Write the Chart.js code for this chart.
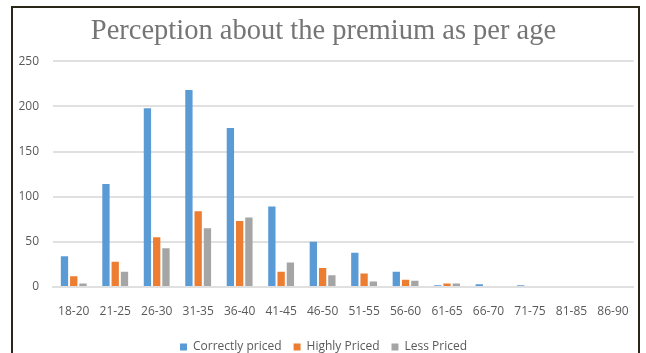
<!DOCTYPE html>
<html>
<head>
<meta charset="utf-8">
<script src="https://cdn.jsdelivr.net/npm/chart.js@4/dist/chart.umd.min.js"></script>
<style>
  html, body { margin: 0; padding: 0; background: #fff; }
  body { width: 646px; height: 353px; position: relative; overflow: hidden; }
  .frame {
    position: absolute; left: 11px; top: 6px; width: 629px; height: 400px;
    box-sizing: border-box; border: 2px solid #2a2619;
  }
  #chart { position: absolute; left: 0; top: 0; }
</style>
</head>
<body>
<div class="frame"></div>
<canvas id="chart" width="646" height="353"></canvas>
<script>
// age groups on the x axis
const AGE_GROUPS = ["18-20", "21-25", "26-30", "31-35", "36-40", "41-45", "46-50",
  "51-55", "56-60", "61-65", "66-70", "71-75", "81-85", "86-90"];

// respondents per perception
const CORRECTLY_PRICED = [34, 114, 198, 218, 176, 89, 50, 38, 17, 2, 3, 2, 0, 0];
const HIGHLY_PRICED = [12, 28, 55, 84, 73, 17, 21, 15, 8, 4, 0, 0, 0, 0];
const LESS_PRICED = [4, 17, 43, 65, 77, 27, 13, 6, 7, 4, 0, 0, 0, 0];

const Y_MAX = 250;
const Y_STEP = 50;

const TEXT_GREY = "#595959";
const GRID_GREY = "#e0e0e0";

const series = [
  { label: "Correctly priced", data: CORRECTLY_PRICED, color: "#5b9bd5" },
  { label: "Highly Priced", data: HIGHLY_PRICED, color: "#ed7d31" },
  { label: "Less Priced", data: LESS_PRICED, color: "#a5a5a5" },
];

new Chart(document.getElementById("chart"), {
  type: "bar",
  data: {
    labels: AGE_GROUPS,
    datasets: series.map(s => ({
      label: s.label,
      data: s.data,
      backgroundColor: s.color,
      borderWidth: 0,
      categoryPercentage: 0.67,
      barPercentage: 0.79,
    })),
  },
  options: {
    responsive: false,
    animation: false,
    layout: { padding: { left: 12, right: 11, top: 4, bottom: -10 } },
    plugins: {
      title: {
        display: true,
        text: "Perception about the premium as per age",
        color: "#757575",
        font: { family: "'Liberation Serif', 'DejaVu Serif', serif", size: 28.5, weight: "normal" },
        padding: { top: 10, bottom: 13 },
      },
      legend: {
        position: "bottom",
        labels: {
          color: TEXT_GREY,
          font: { family: "'Open Sans', sans-serif", size: 12 },
          boxWidth: 7,
          boxHeight: 7,
          padding: 12,
        },
      },
      tooltip: { enabled: false },
    },
    scales: {
      x: {
        afterFit: axis => { axis.height = 42; },
        grid: { display: false, drawTicks: false },
        border: { color: GRID_GREY, width: 2 },
        ticks: {
          color: TEXT_GREY,
          font: { family: "'Open Sans', sans-serif", size: 12 },
          padding: 17,
          maxRotation: 0,
          autoSkip: false,
        },
      },
      y: {
        min: 0,
        max: Y_MAX,
        afterFit: axis => { axis.width = 41; },
        grid: { color: GRID_GREY, lineWidth: 2, drawTicks: false },
        border: { display: false },
        ticks: {
          stepSize: Y_STEP,
          color: TEXT_GREY,
          font: { family: "'Open Sans', sans-serif", size: 12 },
          padding: 14,
        },
      },
    },
  },
});
</script>
</body>
</html>
